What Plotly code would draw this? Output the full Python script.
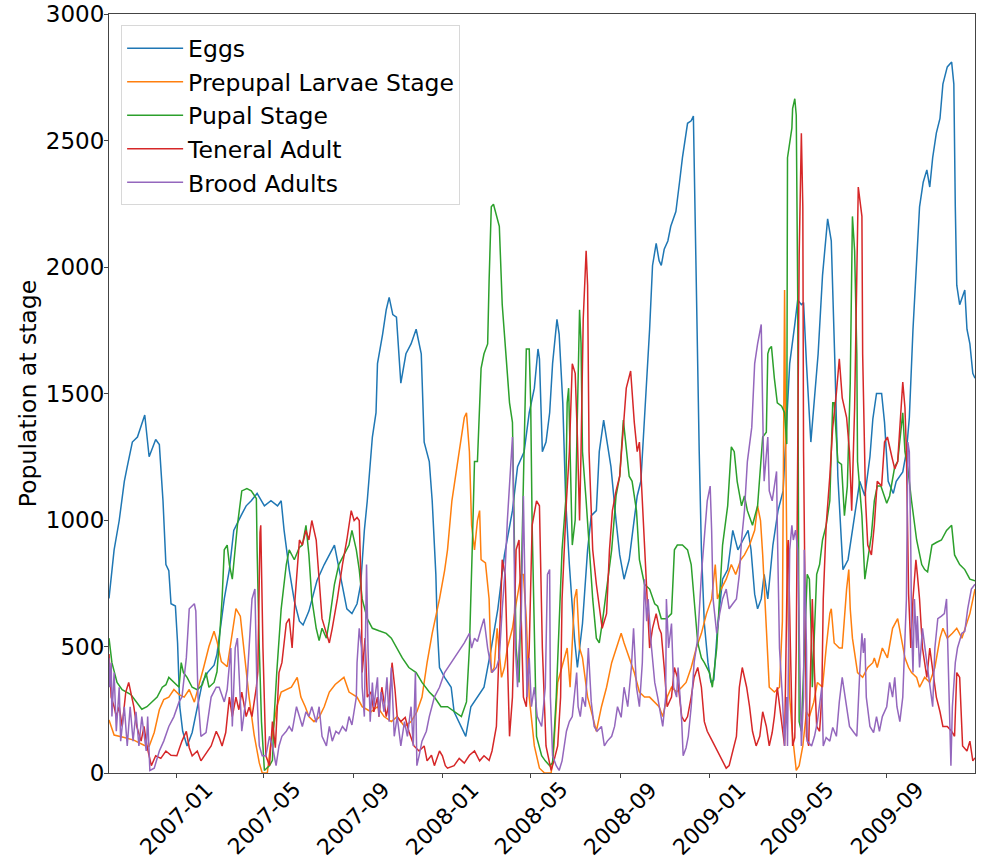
import pandas as pd
import plotly.graph_objects as go

# x = days since 2006-10-01, y = population at stage
start_date = "2006-10-01"

eggs = [(0,690),(7,882),(14,998),(21,1153),(25,1211),(32,1308),(39,1328),(43,1366),(49,1415),(55,1250),(64,1318),(69,1298),(74,1076),(78,824),(82,800),(85,669),(91,660),(94,514),(97,262),(101,165),(107,107),(114,160),(121,262),(128,358),(135,397),(144,426),(148,470),(158,688),(165,804),(171,959),(181,1017),(188,1056),(195,1076),(203,1105),(213,1056),(222,1076),(231,1056),(236,1076),(240,959),(247,804),(254,680),(261,600),(266,585),(274,640),(285,760),(295,824),(309,901),(313,843),(320,727),(326,649),(333,630),(340,669),(345,746),(350,959),(354,1076),(361,1328),(366,1424),(368,1618),(375,1734),(380,1831),(384,1880),(389,1812),(394,1802),(400,1541),(407,1657),(414,1696),(421,1754),(428,1657),(432,1308),(439,1231),(443,1076),(448,785),(450,572),(453,417),(460,378),(469,339),(473,242),(482,184),(489,145),(496,262),(505,300),(514,339),(524,494),(533,649),(542,862),(553,1037),(560,1211),(569,1270),(576,1424),(583,1521),(588,1676),(590,1637),(594,1270),(599,1308),(604,1424),(608,1618),(614,1793),(617,1735),(622,1463),(626,1076),(631,824),(638,533),(642,417),(649,591),(656,882),(661,1017),(668,1037),(672,1270),(678,1395),(683,1308),(688,1211),(695,998),(700,862),(706,766),(713,843),(718,959),(724,1095),(729,1153),(733,1347),(736,1502),(741,1754),(745,2006),(750,2093),(754,2025),(757,2006),(761,2070),(766,2103),(770,2161),(777,2219),(782,2335),(786,2432),(793,2568),(798,2578),(801,2597),(803,2238),(806,1657),(809,1270),(812,882),(816,591),(821,436),(825,358),(829,368),(834,572),(841,766),(848,804),(855,959),(862,882),(869,921),(876,959),(880,882),(885,707),(889,649),(894,688),(898,785),(903,688),(910,901),(917,1037),(924,1115),(928,1328),(933,1618),(940,1773),(944,1870),(949,1851),(952,1860),(956,1618),(962,1308),(972,1657),(978,1967),(985,2190),(990,2103),(995,1618),(999,1173),(1006,804),(1013,843),(1022,1017),(1029,1153),(1036,1095),(1043,1250),(1047,1400),(1052,1500),(1059,1500),(1063,1386),(1068,1153),(1075,1105),(1079,1153),(1084,1173),(1088,1190),(1093,1270),(1097,1405),(1102,1754),(1107,2045),(1111,2238),(1116,2335),(1121,2384),(1125,2316),(1129,2432),(1134,2529),(1139,2587),(1143,2723),(1149,2791),(1155,2810),(1158,2723),(1160,2238),(1162,1928),(1166,1851),(1173,1909),(1176,1754),(1180,1696),(1184,1580),(1187,1560)]

prepupal = [(0,210),(7,150),(21,140),(34,130),(48,110),(55,105),(62,160),(69,250),(75,290),(82,300),(89,330),(96,310),(103,300),(110,330),(117,280),(123,350),(130,420),(137,500),(144,560),(148,520),(154,440),(162,420),(169,560),(174,650),(180,620),(185,480),(192,300),(199,150),(206,40),(210,0),(217,0),(221,100),(226,200),(230,262),(236,320),(244,330),(250,339),(258,378),(263,300),(269,262),(274,223),(281,203),(288,220),(295,262),(302,320),(310,350),(322,378),(329,320),(340,300),(347,262),(359,242),(368,262),(377,223),(387,203),(395,223),(405,184),(414,203),(422,242),(429,300),(436,436),(443,552),(453,688),(460,800),(464,882),(470,1076),(480,1270),(487,1405),(490,1424),(494,1270),(497,979),(501,882),(505,998),(508,1037),(510,843),(516,830),(521,688),(524,397),(528,417),(532,572),(538,378),(542,417),(546,494),(553,572),(558,669),(565,785),(568,785),(572,610),(576,300),(583,107),(590,19),(597,0),(606,0),(609,68),(615,358),(621,417),(628,494),(632,339),(638,688),(641,727),(645,494),(649,455),(656,300),(663,223),(668,165),(675,262),(682,339),(689,436),(695,494),(702,552),(706,514),(713,455),(720,397),(727,320),(734,300),(741,300),(748,281),(754,262),(759,223),(765,300),(771,339),(778,320),(785,339),(791,358),(798,417),(805,494),(812,552),(819,630),(826,688),(831,824),(834,688),(839,727),(846,766),(853,824),(859,785),(866,843),(871,862),(878,901),(885,959),(889,1056),(893,998),(896,862),(901,572),(905,339),(912,320),(919,339),(923,600),(926,1909),(927,1500),(929,882),(933,300),(937,145),(942,10),(946,29),(951,107),(956,242),(960,223),(966,280),(971,358),(978,339),(983,494),(988,630),(990,649),(994,514),(1001,494),(1005,494),(1011,727),(1014,804),(1016,649),(1019,533),(1026,397),(1033,378),(1040,417),(1047,436),(1049,455),(1053,417),(1060,494),(1067,455),(1074,572),(1081,610),(1086,533),(1091,455),(1096,417),(1100,397),(1107,378),(1111,339),(1118,378),(1125,358),(1132,417),(1139,533),(1143,572),(1149,533),(1156,552),(1162,572),(1169,533),(1173,572),(1180,630),(1187,727)]

pupal = [(0,533),(4,436),(11,358),(18,329),(30,310),(38,281),(45,252),(52,262),(59,281),(66,300),(73,339),(78,349),(82,378),(89,358),(96,339),(99,436),(102,397),(107,378),(114,339),(121,329),(128,349),(133,397),(137,339),(144,358),(148,400),(151,514),(155,688),(158,882),(162,901),(165,824),(169,766),(176,979),(182,1115),(189,1124),(195,1115),(202,1085),(203,882),(206,494),(209,203),(213,10),(220,29),(224,50),(226,203),(230,400),(236,649),(243,824),(247,882),(254,843),(261,892),(265,901),(270,979),(274,862),(278,688),(284,572),(288,523),(292,572),(298,533),(302,600),(309,746),(315,824),(322,862),(329,901),(333,959),(339,882),(343,804),(347,688),(354,610),(361,572),(370,562),(380,552),(387,533),(394,494),(402,455),(411,417),(421,397),(429,358),(439,320),(446,300),(455,262),(464,262),(473,242),(483,223),(490,281),(494,494),(498,900),(501,1231),(505,1231),(510,1599),(514,1657),(519,1696),(521,1948),(524,2238),(527,2248),(531,2200),(535,2161),(539,1851),(545,1599),(549,1463),(553,1386),(556,882),(558,494),(562,358),(567,1076),(572,1676),(576,1676),(578,1463),(580,979),(583,494),(586,145),(593,68),(598,48),(604,29),(608,40),(613,300),(617,591),(621,882),(626,1076),(628,1463),(630,1521),(632,1270),(635,901),(639,1000),(642,1463),(645,1831),(647,1700),(649,1270),(654,1076),(658,882),(663,688),(668,533),(672,514),(676,591),(682,727),(689,882),(695,1095),(700,1173),(705,1395),(709,1270),(713,1173),(717,1153),(723,1037),(727,843),(734,746),(741,727),(748,669),(752,659),(757,610),(764,610),(771,630),(775,882),(779,901),(786,901),(793,882),(798,824),(802,688),(807,514),(812,455),(816,436),(823,397),(827,339),(833,494),(837,707),(841,901),(848,1056),(853,1289),(857,1270),(861,1153),(867,1056),(871,1095),(875,1037),(882,979),(889,1056),(896,1328),(901,1347),(903,1657),(905,1676),(908,1686),(912,1560),(916,1463),(922,1450),(926,1424),(929,1300),(930,2432),(936,2549),(937,2626),(940,2665),(942,2600),(944,1889),(946,203),(949,165),(953,494),(957,785),(960,766),(963,514),(964,339),(970,785),(974,824),(978,921),(983,979),(988,1076),(992,1463),(994,1463),(999,1231),(1004,1220),(1008,1017),(1012,1134),(1016,1541),(1019,2200),(1022,2064),(1025,1657),(1026,1231),(1032,1017),(1036,766),(1040,843),(1045,940),(1049,1076),(1053,1134),(1058,1134),(1066,1066),(1070,1095),(1077,1211),(1081,1231),(1088,1424),(1091,1270),(1095,1202),(1100,1076),(1107,921),(1114,824),(1118,804),(1122,795),(1128,901),(1134,911),(1141,921),(1148,959),(1155,979),(1159,862),(1166,824),(1173,804),(1180,766),(1187,760)]

teneral = [(0,470),(3,300),(7,262),(10,223),(14,262),(18,184),(23,320),(27,358),(34,262),(38,184),(44,126),(48,184),(52,107),(58,29),(64,68),(71,58),(78,87),(85,70),(93,68),(100,126),(106,165),(110,100),(114,68),(121,87),(126,48),(133,80),(140,107),(147,165),(151,140),(155,107),(160,160),(165,300),(169,223),(174,300),(178,250),(182,320),(188,223),(192,260),(196,223),(202,339),(204,400),(207,950),(208,979),(211,494),(215,68),(220,29),(224,203),(228,100),(233,397),(237,436),(243,591),(247,610),(251,494),(255,688),(261,921),(265,901),(270,959),(274,921),(278,998),(284,921),(288,766),(292,610),(298,552),(302,514),(306,572),(313,688),(320,824),(326,921),(332,1037),(336,998),(340,1010),(343,998),(346,688),(347,397),(351,533),(354,300),(359,320),(363,242),(368,300),(370,223),(374,339),(380,223),(384,280),(388,436),(392,330),(395,223),(400,203),(406,220),(411,165),(418,107),(425,87),(432,107),(436,48),(442,70),(446,29),(453,87),(457,68),(461,29),(464,19),(473,29),(480,58),(487,39),(494,70),(501,87),(508,48),(514,68),(521,50),(525,87),(531,184),(535,494),(539,843),(543,785),(546,417),(549,145),(553,300),(558,882),(562,921),(565,591),(568,300),(572,262),(576,494),(580,979),(586,1076),(590,1056),(594,494),(599,107),(604,29),(606,10),(610,50),(615,107),(619,300),(621,688),(627,1076),(631,1270),(635,1618),(639,1580),(642,1328),(645,998),(647,1270),(650,1793),(654,2064),(656,1928),(658,1270),(663,882),(668,746),(672,649),(676,572),(682,630),(686,882),(690,1037),(695,1115),(700,1173),(704,1328),(709,1521),(715,1589),(720,1386),(724,1270),(727,1308),(731,1076),(737,688),(741,494),(745,572),(750,630),(754,572),(757,552),(761,417),(765,262),(771,300),(775,417),(779,378),(785,223),(789,203),(793,223),(798,300),(802,378),(807,417),(812,339),(816,203),(820,165),(827,126),(834,87),(841,48),(846,19),(850,29),(855,87),(860,145),(864,339),(868,417),(874,339),(878,262),(882,165),(887,107),(892,145),(896,242),(901,184),(905,107),(909,160),(912,223),(916,339),(922,184),(926,107),(930,882),(931,921),(934,494),(937,107),(940,140),(942,494),(944,1270),(946,2045),(949,2529),(951,2238),(952,1270),(955,300),(956,145),(959,107),(962,494),(964,688),(967,397),(970,184),(974,165),(977,300),(979,688),(983,979),(988,1173),(992,1366),(997,1502),(1001,1637),(1005,1483),(1011,1405),(1015,1270),(1018,1037),(1022,1444),(1026,2142),(1027,2316),(1032,2200),(1033,1657),(1037,1076),(1040,901),(1045,862),(1049,979),(1053,1153),(1059,1134),(1063,1308),(1067,1328),(1073,1250),(1077,1202),(1081,1231),(1086,1444),(1088,1545),(1091,1444),(1093,1270),(1096,707),(1099,494),(1102,688),(1106,843),(1108,785),(1111,688),(1115,494),(1121,378),(1125,494),(1129,397),(1134,300),(1139,242),(1143,184),(1149,184),(1155,165),(1159,145),(1162,397),(1166,378),(1170,107),(1176,87),(1180,126),(1184,48),(1187,60)]

brood = [(0,455),(1,339),(3,436),(4,223),(7,397),(10,165),(14,339),(16,126),(21,262),(25,107),(29,262),(33,126),(37,242),(41,107),(45,223),(51,87),(53,223),(56,10),(62,19),(69,87),(75,126),(82,184),(89,223),(96,281),(100,300),(106,455),(110,649),(117,669),(119,640),(122,300),(126,145),(133,160),(140,300),(147,339),(151,339),(158,281),(162,330),(167,494),(169,184),(173,494),(176,533),(180,300),(182,165),(188,300),(192,494),(196,688),(200,727),(203,300),(206,107),(210,68),(215,68),(220,145),(224,107),(229,29),(233,107),(237,145),(243,165),(247,184),(251,165),(257,262),(261,223),(265,184),(270,242),(274,223),(278,262),(284,200),(288,262),(292,145),(298,107),(302,184),(306,126),(311,165),(315,155),(320,184),(325,165),(329,223),(333,190),(339,300),(340,436),(343,572),(346,494),(347,339),(350,223),(353,824),(355,494),(358,203),(361,358),(363,262),(368,378),(370,223),(373,320),(377,242),(381,378),(384,203),(387,417),(391,145),(395,223),(400,107),(405,203),(409,145),(414,262),(417,107),(420,397),(422,29),(425,68),(429,126),(435,165),(439,223),(446,300),(453,339),(460,397),(469,436),(477,475),(487,514),(494,552),(497,494),(501,533),(505,520),(510,572),(514,610),(519,494),(521,455),(525,397),(531,417),(535,455),(539,649),(543,804),(546,998),(550,1173),(553,1328),(554,1173),(557,494),(560,339),(562,494),(565,610),(568,1095),(571,591),(573,300),(576,455),(579,262),(583,339),(587,223),(593,184),(598,339),(601,785),(604,804),(605,300),(608,68),(613,29),(617,10),(621,48),(627,165),(631,203),(635,223),(641,397),(643,262),(646,223),(649,300),(653,262),(657,494),(661,281),(665,184),(669,165),(675,184),(679,107),(683,126),(689,145),(693,184),(697,262),(702,220),(706,339),(711,262),(716,417),(719,572),(723,339),(727,262),(731,436),(734,766),(737,600),(739,688),(743,514),(748,358),(752,300),(754,262),(759,184),(763,300),(764,688),(767,494),(771,591),(774,339),(778,300),(780,417),(785,203),(787,68),(791,100),(794,145),(798,262),(802,436),(807,533),(812,785),(816,921),(820,1076),(824,1134),(826,959),(828,688),(833,552),(837,630),(841,688),(846,727),(850,649),(855,669),(860,688),(864,785),(867,921),(871,1037),(875,1231),(881,1366),(885,1618),(889,1696),(894,1773),(897,1270),(898,1153),(903,1328),(905,1115),(909,1076),(915,1192),(916,979),(919,494),(923,300),(926,107),(929,300),(930,107),(933,882),(936,979),(938,921),(941,960),(944,882),(946,494),(949,107),(952,300),(953,882),(956,500),(957,126),(963,107),(967,145),(971,203),(977,339),(979,107),(983,140),(988,126),(992,180),(997,145),(1001,281),(1005,378),(1011,262),(1015,184),(1021,160),(1025,145),(1029,397),(1032,552),(1034,475),(1036,533),(1038,300),(1043,184),(1048,160),(1052,223),(1056,165),(1060,223),(1066,262),(1070,358),(1074,300),(1077,378),(1080,262),(1084,203),(1088,300),(1091,494),(1093,688),(1095,1308),(1097,1270),(1099,882),(1100,591),(1102,397),(1104,688),(1107,494),(1108,620),(1111,417),(1115,572),(1121,436),(1125,339),(1129,262),(1132,494),(1136,610),(1141,620),(1145,630),(1148,688),(1151,397),(1154,29),(1156,262),(1160,436),(1163,494),(1169,552),(1173,560),(1177,649),(1182,727),(1187,746)]

series_names = ["Eggs", "Prepupal Larvae Stage", "Pupal Stage", "Teneral Adult", "Brood Adults"]
series_data = [eggs, prepupal, pupal, teneral, brood]
series_colors = ["#1f77b4", "#ff7f0e", "#2ca02c", "#d62728", "#9467bd"]

tick_dates = ["2007-01-01", "2007-05-01", "2007-09-01", "2008-01-01", "2008-05-01",
              "2008-09-01", "2009-01-01", "2009-05-01", "2009-09-01"]
tick_labels = ["2007-01", "2007-05", "2007-09", "2008-01", "2008-05",
               "2008-09", "2009-01", "2009-05", "2009-09"]
y_ticks = [0, 500, 1000, 1500, 2000, 2500, 3000]

base = pd.Timestamp(start_date)
fig = go.Figure()
for name, data, color in zip(series_names, series_data, series_colors):
    days, vals = zip(*data)
    x = base + pd.to_timedelta(list(days), unit="D")
    fig.add_trace(go.Scatter(x=x, y=list(vals), mode="lines", name=name,
                             line=dict(color=color, width=1.5)))

x_end = base + pd.Timedelta(days=max(d for d, _ in eggs))
axis_common = dict(showline=True, mirror=True, linecolor="#444", linewidth=1,
                   ticks="outside", ticklen=4, tickcolor="#444", showgrid=False,
                   zeroline=False, automargin=False,
                   tickfont=dict(size=23, color="black"))

# rotated date labels, centred under their ticks (matplotlib style)
tick_annotations = [
    dict(x=d, xref="x", y=0, yref="paper", yshift=-45, text=t,
         textangle=-45, showarrow=False, xanchor="center", yanchor="middle",
         font=dict(size=22, color="black", family="DejaVu Sans"))
    for d, t in zip(tick_dates, tick_labels)
]

fig.update_layout(
    width=982, height=862,
    margin=dict(l=109, r=7, t=14, b=89),
    paper_bgcolor="white", plot_bgcolor="white",
    font=dict(family="DejaVu Sans", size=23, color="black"),
    xaxis=dict(type="date", range=[base, x_end], tickvals=tick_dates,
               showticklabels=False, **axis_common),
    yaxis=dict(range=[0, 3000], tickvals=y_ticks, ticklabelstandoff=-5,
               title=dict(text="Population at stage", font=dict(size=23.5),
                          standoff=2),
               **axis_common),
    legend=dict(x=0.014, y=0.985, xanchor="left", yanchor="top",
                bordercolor="#d8d8d8", borderwidth=1, bgcolor="white",
                font=dict(size=23.5), itemwidth=56),
    annotations=tick_annotations,
    showlegend=True,
)

fig.write_html("out.html")
